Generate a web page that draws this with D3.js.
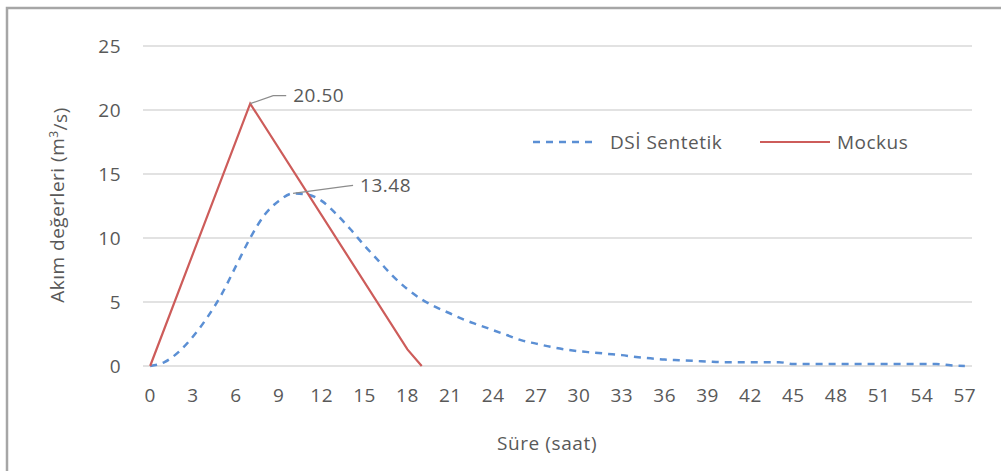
<!DOCTYPE html>
<html>
<head>
<meta charset="utf-8">
<script src="https://cdn.jsdelivr.net/npm/d3@7/dist/d3.min.js"></script>
<style>
  body { margin: 0; background: #fff; }
  svg text { font-family: "Open Sans", sans-serif; fill: #595959; }
</style>
</head>
<body>
<div id="chart"></div>
<script>
// hours on the category axis
var hours = [0,1,2,3,4,5,6,7,8,9,10,11,12,13,14,15,16,17,18,19,20,21,22,23,24,25,26,27,28,29,
  30,31,32,33,34,35,36,37,38,39,40,41,42,43,44,45,46,47,48,49,50,51,52,53,54,55,56,57];
var hourLabels = [0,3,6,9,12,15,18,21,24,27,30,33,36,39,42,45,48,51,54,57];
var yTicks = [0,5,10,15,20,25];

// DSİ Sentetik, one value per hour
var dsiValues = [0,0.3,1.1,2.3,3.8,5.6,7.8,10.0,11.8,12.9,13.48,13.4,12.9,11.9,10.7,9.4,8.2,7.0,6.0,5.2,
  4.6,4.1,3.6,3.2,2.8,2.4,2.0,1.75,1.5,1.3,1.15,1.05,0.95,0.85,0.7,0.6,0.5,0.45,0.4,0.35,
  0.3,0.3,0.3,0.3,0.3,0.15,0.15,0.15,0.15,0.15,0.15,0.15,0.15,0.15,0.15,0.15,0.05,0];

// Mockus triangle
var mockusHours = [0,7,18,19];
var mockusValues = [0,20.5,1.3,0];

var W = 1001, H = 471;
var svg = d3.select('#chart').append('svg').attr('width', W).attr('height', H);

// outer frame (only left & top visible in the picture)
svg.append('rect').attr('x', 7).attr('y', 8).attr('width', W + 10).attr('height', H + 10)
  .style('fill', 'white').style('stroke', '#a6a6a6').style('stroke-width', 2.5);

var x = d3.scaleLinear().domain([-0.5, 57.5]).range([143, 972]);
var y = d3.scaleLinear().domain([0, 25]).range([366, 46]);

// gridlines
svg.append('g').selectAll('line').data(yTicks).enter().append('line')
  .attr('x1', 143).attr('x2', 972)
  .attr('y1', function(d){return y(d);}).attr('y2', function(d){return y(d);})
  .style('stroke', '#d9d9d9').style('stroke-width', 1.5);

// y tick labels
svg.append('g').selectAll('text').data(yTicks).enter().append('text')
  .attr('x', 121).attr('y', function(d){return y(d);}).attr('dy', '0.35em')
  .style('text-anchor', 'end').style('font-size', '19px').style('letter-spacing', '0.5px')
  .text(function(d){return d;});

// x tick labels
svg.append('g').selectAll('text').data(hourLabels).enter().append('text')
  .attr('x', function(d){return x(d);}).attr('y', 395).attr('dy', '0.35em')
  .style('text-anchor', 'middle').style('font-size', '19px').style('letter-spacing', '0.5px')
  .text(function(d){return d;});

// axis titles
svg.append('text').attr('x', 547).attr('y', 443).attr('dy', '0.35em')
  .style('text-anchor', 'middle').style('font-size', '19px').style('letter-spacing', '0.6px')
  .text('Süre (saat)');

var yt = svg.append('text').attr('transform', 'translate(57,205) rotate(-90)').attr('dy', '0.35em')
  .style('text-anchor', 'middle').style('font-size', '19px').style('letter-spacing', '0.5px');
yt.append('tspan').text('Akım değerleri (m');
yt.append('tspan').attr('dy', '-0.45em').style('font-size', '12px').text('3');
yt.append('tspan').attr('dy', '0.45em').text('/s)');

// series
var dsiLine = d3.line()
  .x(function(d, i){return x(hours[i]);})
  .y(function(d){return y(d);})
  .curve(d3.curveMonotoneX);
svg.append('path').datum(dsiValues).attr('d', dsiLine)
  .style('fill', 'none').style('stroke', '#5b8fd4').style('stroke-width', 2.5)
  .style('stroke-dasharray', '7,6');

var mockusLine = d3.line()
  .x(function(d, i){return x(mockusHours[i]);})
  .y(function(d){return y(d);});
svg.append('path').datum(mockusValues).attr('d', mockusLine)
  .style('fill', 'none').style('stroke', '#cd5c5a').style('stroke-width', 2.2);

// peak labels with leader lines
var peaks = [
  {hx: 7, v: 20.5, txt: '20.50', bend: [23, -8], end: [36, -8], tx: 43},
  {hx: 10, v: 13.48, txt: '13.48', bend: [52, -7], end: [60, -8], tx: 67}
];
peaks.forEach(function(p){
  var px = x(p.hx), py = y(p.v);
  svg.append('polyline')
    .attr('points', [[px, py], [px + p.bend[0], py + p.bend[1]], [px + p.end[0], py + p.end[1]]].join(' '))
    .style('fill', 'none').style('stroke', '#8c8c8c').style('stroke-width', 1.2);
  svg.append('text').attr('x', px + p.tx).attr('y', py + p.end[1]).attr('dy', '0.35em')
    .style('font-size', '19px').style('letter-spacing', '0.5px').text(p.txt);
});

// legend
var lg = svg.append('g');
lg.append('line').attr('x1', 533).attr('x2', 598).attr('y1', 142).attr('y2', 142)
  .style('stroke', '#5b8fd4').style('stroke-width', 2.5).style('stroke-dasharray', '7,6');
lg.append('text').attr('x', 610).attr('y', 142).attr('dy', '0.35em')
  .style('font-size', '19px').style('letter-spacing', '0.5px').text('DSİ Sentetik');
lg.append('line').attr('x1', 760).attr('x2', 830).attr('y1', 142).attr('y2', 142)
  .style('stroke', '#cd5c5a').style('stroke-width', 2.2);
lg.append('text').attr('x', 837).attr('y', 142).attr('dy', '0.35em')
  .style('font-size', '19px').style('letter-spacing', '0.5px').text('Mockus');
</script>
</body>
</html>
